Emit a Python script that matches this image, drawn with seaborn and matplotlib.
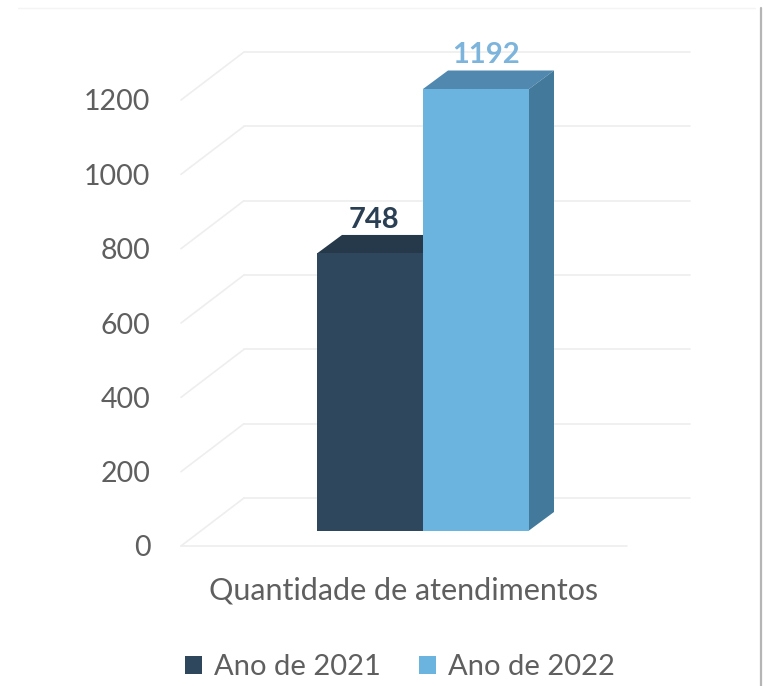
import matplotlib
matplotlib.use("Agg")
import matplotlib.pyplot as plt
from matplotlib.lines import Line2D
from matplotlib.patches import Polygon
import pandas as pd
import seaborn as sns

# Data
category = ["Quantidade de atendimentos"]
years = ["Ano de 2021", "Ano de 2022"]
visits = [748, 1192]
y_ticks = [0, 200, 400, 600, 800, 1000, 1200]

# Colours: front face, top face, side face
front_colors = ["#2f475d", "#6cb4e0"]
top_colors = ["#26394b", "#5088af"]
side_colors = ["#26394b", "#43799b"]
label_colors = ["#2a3f54", "#7db4dc"]
text_color = "#5f5f5f"
grid_color = "#eeeeee"

# Layout in pixels
W, H = 763, 686
DPI = 100
FLOOR_LEFT, FLOOR_RIGHT, FLOOR_Y = 181, 627, 546
BAR_SHIFT_X, BAR_BASE_Y = 19, 530.5
TOP_Y = 30
WALL_DX, WALL_DY = 63, 48
BAR_DX, BAR_DY = 25, 18.5
GRID_SCALE = 446 / 1200
BAR_SCALE = 441.5 / 1192

sns.set_theme(style="white")
plt.rcParams["font.family"] = ["Lato", "DejaVu Sans"]

fig = plt.figure(figsize=(W / DPI, H / DPI), dpi=DPI, facecolor="white")


def axes_at(left, right, bottom_y):
    return fig.add_axes([left / W, 1 - bottom_y / H, (right - left) / W, (bottom_y - TOP_Y) / H])


# Back layer: walls, floor and value axis
ax_grid = axes_at(FLOOR_LEFT, FLOOR_RIGHT, FLOOR_Y)
ax_grid.set_xlim(-0.5, 0.5)
ax_grid.set_ylim(0, (FLOOR_Y - TOP_Y) / GRID_SCALE)
span = FLOOR_RIGHT - FLOOR_LEFT
wall_x = WALL_DX / span
wall_y = WALL_DY / GRID_SCALE
for tick in y_ticks:
    ax_grid.plot([-0.5, -0.5 + wall_x], [tick, tick + wall_y], color=grid_color, lw=1.2, clip_on=False)
    ax_grid.plot([-0.5 + wall_x, 0.5 + wall_x], [tick + wall_y] * 2, color=grid_color, lw=1.2, clip_on=False)
ax_grid.plot([-0.5, 0.5], [0, 0], color=grid_color, lw=1.2, clip_on=False)
ax_grid.set_yticks(y_ticks)
ax_grid.set_xticks([0])
ax_grid.set_xticklabels(category)
ax_grid.tick_params(axis="y", length=0, pad=22, labelsize=20.5, labelcolor=text_color)
ax_grid.tick_params(axis="x", length=0, pad=22, labelsize=22, labelcolor=text_color)
sns.despine(ax=ax_grid, left=True, bottom=True)

# Front layer: the bars with their extruded faces
ax_bar = axes_at(FLOOR_LEFT + BAR_SHIFT_X, FLOOR_RIGHT + BAR_SHIFT_X, BAR_BASE_Y)
ax_bar.patch.set_alpha(0)
df = pd.DataFrame({"grupo": category * len(years), "ano": years, "total": visits})
sns.barplot(
    data=df, x="grupo", y="total", hue="ano", hue_order=years,
    palette=front_colors, width=212 / span, saturation=1, linewidth=0,
    zorder=5, ax=ax_bar,
)
ax_bar.set_xlim(-0.5, 0.5)
ax_bar.set_ylim(0, (BAR_BASE_Y - TOP_Y) / BAR_SCALE)
ax_bar.set_axis_off()

bar_dx = BAR_DX / span
bar_dy = BAR_DY / BAR_SCALE
label_shift = [4, 10]
label_rise = [33, 34]
for i, bar in enumerate(ax_bar.patches[:len(years)]):
    x0, x1, h = bar.get_x(), bar.get_x() + bar.get_width(), bar.get_height()
    ax_bar.add_patch(Polygon(
        [(x0, h), (x1, h), (x1 + bar_dx, h + bar_dy), (x0 + bar_dx, h + bar_dy)],
        facecolor=top_colors[i], edgecolor="none", zorder=3, clip_on=False))
    ax_bar.add_patch(Polygon(
        [(x1, 0), (x1 + bar_dx, bar_dy), (x1 + bar_dx, h + bar_dy), (x1, h)],
        facecolor=side_colors[i], edgecolor="none", zorder=3, clip_on=False))
    ax_bar.annotate(
        str(visits[i]), xy=(x0 + bar.get_width() / 2, h),
        xytext=(label_shift[i] * 72 / DPI, label_rise[i] * 72 / DPI), textcoords="offset points",
        ha="center", va="center", fontsize=21, fontweight="bold",
        color=label_colors[i], annotation_clip=False, zorder=6)

# Legend beneath the category label
handles, labels = ax_bar.get_legend_handles_labels()
ax_bar.get_legend().remove()
fig.legend(
    handles, labels, loc="center", bbox_to_anchor=(400 / W, 1 - 667 / H),
    ncol=2, frameon=False, fontsize=21, labelcolor=text_color,
    handlelength=0.58, handleheight=0.58, handletextpad=0.42, columnspacing=1.3,
)

# Thin border of the pasted panel
fig.add_artist(Line2D([18 / W, 755 / W], [1 - 7.5 / H] * 2, color="#f4f4f4", lw=1))
fig.add_artist(Line2D([760.5 / W] * 2, [1 - 8 / H, 0], color="#b5b5b5", lw=1.6))

fig.savefig("out.png", dpi=DPI)
